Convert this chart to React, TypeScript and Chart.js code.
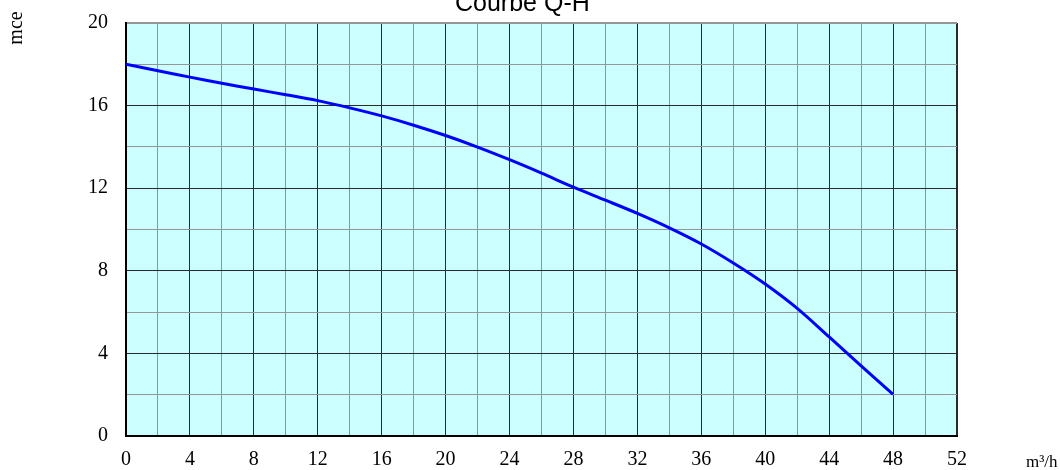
import React, { useEffect, useRef } from "react";
import { Chart, registerables } from "chart.js";

Chart.register(...registerables);

const flowValues = [0, 2, 4, 6, 8, 10, 12, 14, 16, 18, 20, 22, 24, 26, 28, 30, 32, 34, 36, 38, 40, 42, 44, 46, 48];
const headValues = [18, 17.69, 17.38, 17.08, 16.8, 16.53, 16.24, 15.89, 15.5, 15.05, 14.55, 13.99, 13.38, 12.73, 12.05, 11.42, 10.78, 10.08, 9.3, 8.38, 7.36, 6.18, 4.8, 3.4, 2.02];
const titleText = "Courbe Q-H";
const yAxisLabel = "mce";
const xAxisLabel = "m³/h";
const xMin = 0;
const xMax = 52;
const yMin = 0;
const yMax = 20;

const SERIF = "'Liberation Serif', 'Times New Roman', serif";
const SANS = "'Liberation Sans', Arial, sans-serif";

const bgPlugin = {
  id: "plotBg",
  beforeDraw(chart: any) {
    const { ctx, chartArea } = chart;
    ctx.save();
    ctx.fillStyle = "#CCFFFF";
    ctx.fillRect(chartArea.left, chartArea.top, chartArea.right - chartArea.left, chartArea.bottom - chartArea.top);
    ctx.restore();
  },
  afterDraw(chart: any) {
    const { ctx } = chart;
    ctx.save();
    ctx.fillStyle = "#000";
    ctx.font = "25px " + SANS;
    ctx.textAlign = "left";
    ctx.textBaseline = "alphabetic";
    ctx.fillText(titleText, 455, 11);

    ctx.font = "17px " + SERIF;
    ctx.fillText(xAxisLabel, 1026, 467);

    ctx.translate(22, 28);
    ctx.rotate(-Math.PI / 2);
    ctx.textAlign = "center";
    ctx.font = "20px " + SERIF;
    ctx.fillText(yAxisLabel, 0, 0);
    ctx.restore();
  },
};

export default function App() {
  const ref = useRef<HTMLCanvasElement | null>(null);

  useEffect(() => {
    if (!ref.current) return;
    const data = flowValues.map((q, i) => ({ x: q, y: headValues[i] }));
    const chart = new Chart(ref.current, {
      type: "line",
      data: {
        datasets: [
          {
            data,
            borderColor: "#0000FF",
            borderWidth: 3,
            pointRadius: 0,
            fill: false,
            tension: 0.3,
          },
        ],
      },
      options: {
        animation: false,
        responsive: false,
        devicePixelRatio: 1,
        layout: { padding: { top: 23, right: 103, left: 0, bottom: 0 } },
        plugins: { legend: { display: false }, title: { display: false }, tooltip: { enabled: false } },
        scales: {
          x: {
            type: "linear",
            min: xMin,
            max: xMax,
            afterFit: (s: any) => {
              s.height = 34;
            },
            ticks: {
              stepSize: 2,
              autoSkip: false,
              maxRotation: 0,
              padding: 12,
              color: "#000",
              font: { family: SERIF, size: 20 },
              callback: (v: any) => (Number(v) % 4 === 0 ? String(v) : ""),
            },
            grid: {
              drawTicks: false,
              color: (c: any) => (c.tick && c.tick.value % 4 === 0 ? "#2a2a2a" : "#959595"),
              lineWidth: (c: any) => (c.tick && c.tick.value === xMax ? 2 : 1),
            },
            border: { color: "#000", width: 2 },
          },
          y: {
            type: "linear",
            min: yMin,
            max: yMax,
            afterFit: (s: any) => {
              s.width = 126;
            },
            ticks: {
              stepSize: 2,
              autoSkip: false,
              padding: 0,
              color: "#000",
              font: { family: SERIF, size: 20 },
              callback: (v: any) => (Number(v) % 4 === 0 ? String(v) : ""),
            },
            grid: {
              drawTicks: true,
              tickLength: 18,
              tickColor: "rgba(0,0,0,0)",
              color: (c: any) =>
                c.tick && c.tick.value % 4 === 0 && c.tick.value !== yMax ? "#2a2a2a" : "#959595",
              lineWidth: (c: any) => (c.tick && c.tick.value === yMax ? 2 : 1),
            },
            border: { color: "#000", width: 2 },
          },
        },
      } as any,
      plugins: [bgPlugin],
    });
    return () => chart.destroy();
  }, []);

  return (
    <div style={{ position: "fixed", left: 0, top: 0, width: 1060, height: 470, background: "#fff" }}>
      <canvas ref={ref} width={1060} height={470} style={{ width: 1060, height: 470 }} />
    </div>
  );
}
